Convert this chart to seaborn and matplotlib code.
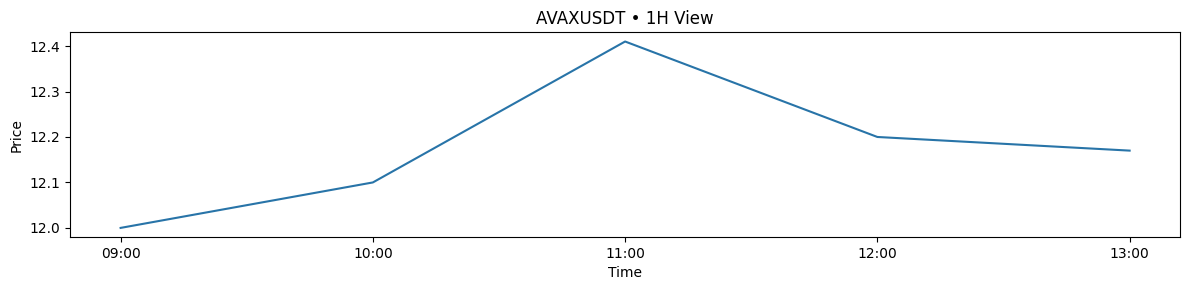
import matplotlib
matplotlib.use("Agg")
import matplotlib.pyplot as plt
import seaborn as sns
import pandas as pd

times = ["09:00", "10:00", "11:00", "12:00", "13:00"]
prices = [12.0, 12.1, 12.41, 12.2, 12.17]

df = pd.DataFrame({"Time": times, "Price": prices})

fig, ax = plt.subplots(figsize=(11.89, 2.9), dpi=100)
sns.lineplot(data=df, x="Time", y="Price", ax=ax, color="#2874a8")
ax.set_title("AVAXUSDT • 1H View")
ax.set_xlabel("Time")
ax.set_ylabel("Price")
fig.subplots_adjust(left=0.059, right=0.9925, top=0.889, bottom=0.182)
fig.savefig("out.png", dpi=100)
